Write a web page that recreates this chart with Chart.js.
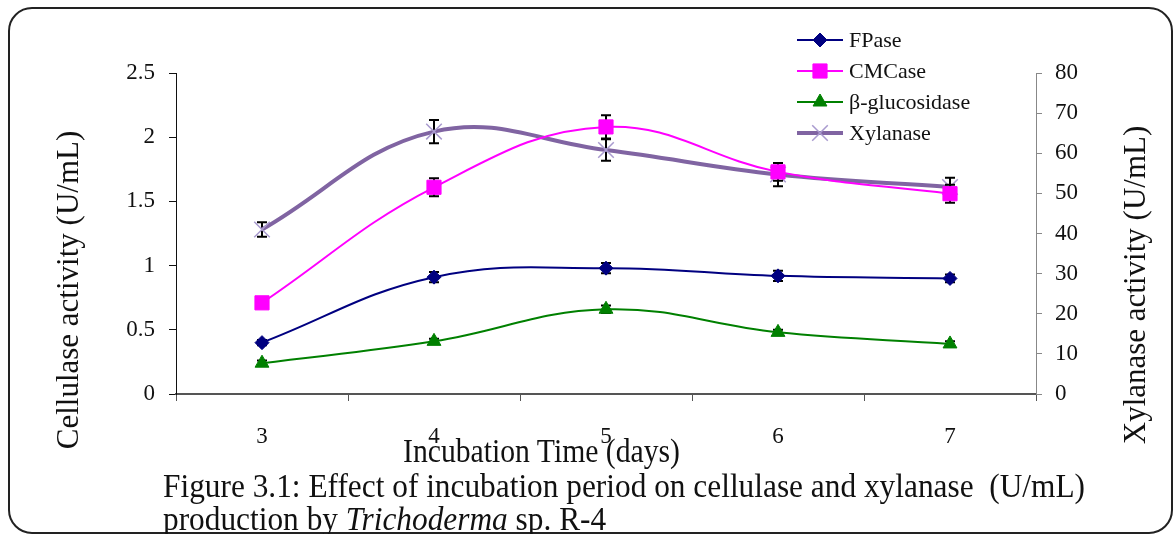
<!DOCTYPE html>
<html>
<head>
<meta charset="utf-8">
<script src="https://cdn.jsdelivr.net/npm/chart.js@4/dist/chart.umd.min.js"></script>
<style>
  html, body { margin: 0; padding: 0; background: #fff; }
  #wrap { position: relative; width: 1174px; height: 534px; overflow: hidden; }
  #frame { position: absolute; left: 8px; top: 7px; width: 1165px; height: 527px; box-sizing: border-box;
           border: 2px solid #222; border-radius: 24px; }
  canvas { position: absolute; left: 0; top: 0; }
  .txt { position: absolute; font-family: "Liberation Serif", "Times New Roman", serif; color: #111;
         white-space: pre; transform-origin: 0 0; }
  #xtitle { font-size: 34px; line-height: 34px; }
  #caption { font-size: 34px; line-height: 33px; }
</style>
</head>
<body>
<div id="wrap">
  <div id="frame"></div>
  <canvas id="chart" width="1174" height="534"></canvas>
  <div id="xtitle" class="txt">Incubation Time (days)</div>
  <div id="caption" class="txt">Figure 3.1: Effect of incubation period on cellulase and xylanase  (U/mL)
production by <i>Trichoderma</i> sp. R-4</div>
</div>
<script>
// values
const days = ['3', '4', '5', '6', '7'];
const fpase = [0.40, 0.91, 0.98, 0.92, 0.90];
const fpaseErr = [0.02, 0.04, 0.04, 0.04, 0.03];
const cmcase = [0.71, 1.61, 2.08, 1.73, 1.56];
const cmcaseErr = [0.02, 0.07, 0.09, 0.07, 0.07];
const bgluc = [0.24, 0.41, 0.66, 0.48, 0.39];
const bglucErr = [0.02, 0.02, 0.03, 0.02, 0.02];
const xylanase = [41.0, 65.4, 60.8, 54.7, 51.6];
const xylanaseErr = [1.8, 2.9, 2.7, 2.9, 2.3];

const leftTicks = { min: 0, max: 2.5, step: 0.5 };
const rightTicks = { min: 0, max: 80, step: 10 };

const errors = [fpaseErr, cmcaseErr, bglucErr, xylanaseErr];
const serif = '"Liberation Serif", "Times New Roman", serif';

// error bars, drawn under each dataset's own line/markers
const errorBars = {
    id: 'errorBars',
    beforeDatasetDraw(chart, args) {
        const ctx = chart.ctx;
        const meta = args.meta;
        const ds = chart.data.datasets[args.index];
        const yScale = chart.scales[meta.yAxisID];
        const errs = errors[args.index];
        ctx.save();
        ctx.strokeStyle = '#000';
        ctx.lineWidth = 2;
        meta.data.forEach((pt, i) => {
            const v = ds.data[i];
            const top = yScale.getPixelForValue(v + errs[i]);
            const bot = yScale.getPixelForValue(v - errs[i]);
            ctx.beginPath();
            ctx.moveTo(pt.x, top); ctx.lineTo(pt.x, bot);
            ctx.moveTo(pt.x - 5, top); ctx.lineTo(pt.x + 5, top);
            ctx.moveTo(pt.x - 5, bot); ctx.lineTo(pt.x + 5, bot);
            ctx.stroke();
        });
        ctx.restore();
    }
};

// legend (line + marker) and the two y titles
const extras = {
    id: 'extras',
    afterDraw(chart) {
        const ctx = chart.ctx;
        ctx.save();
        chart.data.datasets.forEach((ds, i) => {
            const y = 40 + i * 31;
            ctx.strokeStyle = ds.borderColor;
            ctx.lineWidth = ds.borderWidth;
            ctx.beginPath();
            ctx.moveTo(797, y); ctx.lineTo(843, y);
            ctx.stroke();
            ctx.fillStyle = ds.pointBackgroundColor;
            ctx.strokeStyle = ds.pointBorderColor;
            ctx.lineWidth = ds.pointBorderWidth;
            Chart.helpers.drawPoint(ctx, {
                pointStyle: ds.pointStyle, radius: ds.pointRadius, rotation: 0, borderWidth: ds.pointBorderWidth
            }, 820, y);
            ctx.fillStyle = '#111';
            ctx.font = '22px ' + serif;
            ctx.textBaseline = 'middle';
            ctx.textAlign = 'left';
            ctx.fillText(ds.label, 849, y + 1);
        });

        ctx.font = '31px ' + serif;
        ctx.textAlign = 'center';
        ctx.textBaseline = 'middle';
        ctx.fillStyle = '#111';
        ctx.translate(70, 290);
        ctx.rotate(-Math.PI / 2);
        ctx.fillText('Cellulase activity (U/mL)', 0, 0);
        ctx.setTransform(1, 0, 0, 1, 0, 0);
        ctx.translate(1137, 285);
        ctx.rotate(-Math.PI / 2);
        ctx.fillText('Xylanase activity (U/mL)', 0, 0);
        ctx.restore();
    }
};

const tickFont = { family: serif, size: 23 };

new Chart(document.getElementById('chart'), {
    type: 'line',
    data: {
        labels: days,
        datasets: [
            {
                label: 'FPase', data: fpase, yAxisID: 'y',
                borderColor: '#000080', borderWidth: 2,
                pointStyle: 'rectRot', pointRadius: 7,
                pointBackgroundColor: '#000080', pointBorderColor: '#000080', pointBorderWidth: 1
            },
            {
                label: 'CMCase', data: cmcase, yAxisID: 'y',
                borderColor: '#ff00ff', borderWidth: 2,
                pointStyle: 'rect', pointRadius: 10,
                pointBackgroundColor: '#ff00ff', pointBorderColor: '#ff00ff', pointBorderWidth: 1
            },
            {
                label: 'β-glucosidase', data: bgluc, yAxisID: 'y',
                borderColor: '#008000', borderWidth: 2,
                pointStyle: 'triangle', pointRadius: 8,
                pointBackgroundColor: '#008000', pointBorderColor: '#008000', pointBorderWidth: 1
            },
            {
                label: 'Xylanase', data: xylanase, yAxisID: 'y1',
                borderColor: '#8064a2', borderWidth: 4,
                pointStyle: 'crossRot', pointRadius: 11,
                pointBackgroundColor: '#a99bcf', pointBorderColor: '#a99bcf', pointBorderWidth: 1.5
            }
        ]
    },
    options: {
        responsive: false,
        animation: false,
        devicePixelRatio: 1,
        layout: { padding: { top: 73, left: 0, right: 0, bottom: 0 } },
        elements: { line: { tension: 0.4 } },
        plugins: { legend: { display: false }, tooltip: { enabled: false } },
        scales: {
            x: {
                offset: true,
                afterFit(scale) { scale.height = 140; },
                border: { display: true, color: '#555', width: 2 },
                grid: { offset: true, drawOnChartArea: false, drawTicks: true, tickLength: 7, color: '#555', lineWidth: 1 },
                ticks: { font: tickFont, color: '#111', padding: 22 }
            },
            y: {
                position: 'left',
                min: leftTicks.min, max: leftTicks.max,
                afterFit(scale) { scale.width = 176; },
                border: { display: true, color: '#111', width: 1 },
                grid: { drawOnChartArea: false, drawTicks: true, tickLength: 7, color: '#111' },
                ticks: {
                    stepSize: leftTicks.step, font: tickFont, color: '#111', padding: 14,
                    callback: v => String(+v.toFixed(1))
                }
            },
            y1: {
                position: 'right',
                min: rightTicks.min, max: rightTicks.max,
                afterFit(scale) { scale.width = 138; },
                border: { display: true, color: '#888', width: 1 },
                grid: { drawOnChartArea: false, drawTicks: true, tickLength: 6, color: '#888' },
                ticks: { stepSize: rightTicks.step, font: tickFont, color: '#111', padding: 13 }
            }
        }
    },
    plugins: [errorBars, extras]
});

// squeeze the caption lines to the widths they take in the figure
(function () {
    const wrap = document.getElementById('wrap');
    const xt = document.getElementById('xtitle');
    const w = xt.getBoundingClientRect().width;
    xt.style.transform = 'scaleX(' + (277 / w) + ')';
    xt.style.left = '403px';
    xt.style.top = '434px';

    const cap = document.getElementById('caption');
    const probe = document.createElement('span');
    probe.className = 'txt';
    probe.style.fontSize = '34px';
    probe.textContent = 'Figure 3.1: Effect of incubation period on cellulase and xylanase  (U/mL)';
    wrap.appendChild(probe);
    const w1 = probe.getBoundingClientRect().width;
    probe.remove();
    cap.style.transform = 'scaleX(' + (922 / w1) + ')';
    cap.style.left = '163px';
    cap.style.top = '469px';
})();
</script>
</body>
</html>
